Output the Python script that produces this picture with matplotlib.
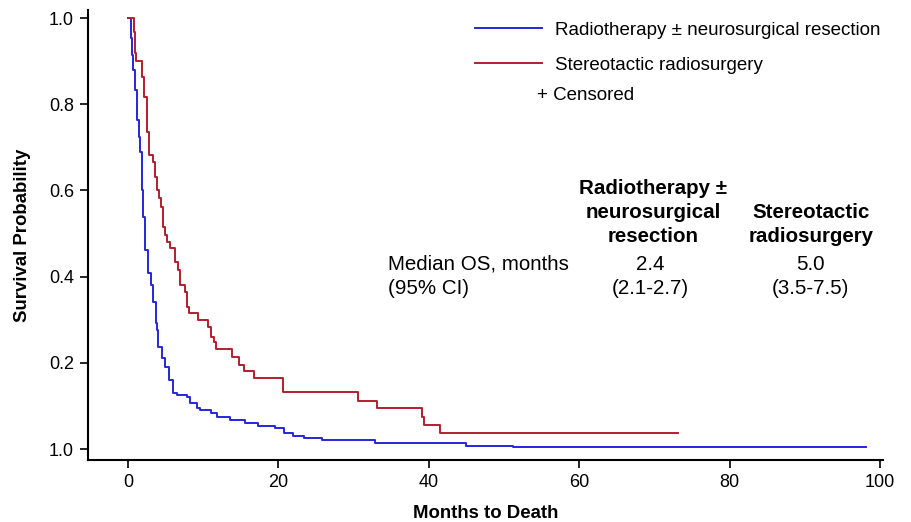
import matplotlib
matplotlib.use("Agg")
import matplotlib.pyplot as plt
from matplotlib.lines import Line2D

plt.rcParams['font.family'] = ['Liberation Sans', 'DejaVu Sans']

# Kaplan-Meier step data (time in months, survival after the step)
blue_t = [0, 0.4, 0.53, 0.66, 0.93, 1.2, 1.46, 1.6, 1.86, 2.04, 2.26, 2.66, 3.06, 3.39, 3.66,
          3.85, 4.0, 4.52, 4.92, 5.45, 5.98, 6.5, 7.8, 8.2, 9.2, 9.6, 11.0, 11.9, 13.6, 15.5,
          17.3, 19.5, 20.7, 22.0, 23.4, 25.8, 32.8, 45.0, 51.2, 98.2]
blue_s = [1.0, 0.954, 0.914, 0.879, 0.833, 0.763, 0.724, 0.689, 0.60, 0.538, 0.462, 0.408, 0.381,
          0.341, 0.292, 0.276, 0.237, 0.211, 0.19, 0.16, 0.13, 0.125, 0.12, 0.107, 0.095, 0.09,
          0.084, 0.074, 0.067, 0.06, 0.053, 0.048, 0.036, 0.031, 0.026, 0.021, 0.0146, 0.0077,
          0.0053, 0.0053]

red_t = [0, 0.84, 0.93, 1.06, 1.82, 2.13, 2.57, 2.75, 3.37, 3.59, 3.9, 4.12, 4.45, 4.72, 4.92,
         5.19, 5.58, 6.25, 6.65, 6.92, 7.58, 7.8, 8.11, 9.27, 10.6, 11.04, 11.37, 11.66, 13.83,
         14.72, 15.39, 16.76, 20.6, 30.6, 33.1, 39.1, 39.4, 41.5, 73.1]
red_s = [1.0, 0.968, 0.919, 0.90, 0.863, 0.817, 0.736, 0.682, 0.666, 0.631, 0.601, 0.582, 0.561,
         0.515, 0.497, 0.48, 0.466, 0.434, 0.415, 0.381, 0.364, 0.329, 0.316, 0.299, 0.283, 0.26,
         0.248, 0.232, 0.213, 0.195, 0.181, 0.165, 0.132, 0.111, 0.095, 0.074, 0.056, 0.038, 0.038]

series_labels = ["Radiotherapy \u00b1 neurosurgical resection", "Stereotactic radiosurgery"]
x_ticks = [0, 20, 40, 60, 80, 100]
y_ticks = [0.0, 0.2, 0.4, 0.6, 0.8, 1.0]
y_tick_labels = ["1.0", "0.2", "0.4", "0.6", "0.8", "1.0"]

col_headers = ["Radiotherapy \u00b1\nneurosurgical\nresection", "Stereotactic\nradiosurgery"]
row_label = "Median OS, months\n(95% CI)"
medians = ["2.4", "5.0"]
cis = ["(2.1-2.7)", "(3.5-7.5)"]

BLUE = '#2626dc'
RED = '#b31e2d'

W, H = 911, 522
fig = plt.figure(figsize=(W / 100, H / 100), dpi=100)
ax_l, ax_r, ax_b, ax_t = 88, 883, 460, 10
ax = fig.add_axes([ax_l / W, (H - ax_b) / H, (ax_r - ax_l) / W, (ax_b - ax_t) / H])

ax.step(blue_t, blue_s, where='post', color=BLUE, lw=1.4)
ax.step(red_t, red_s, where='post', color=RED, lw=1.4)

ax.set_xlim(-5.32, 100.4)
ax.set_ylim(-0.0255, 1.0186)
ax.set_xticks(x_ticks)
ax.set_yticks(y_ticks)
ax.set_yticklabels(y_tick_labels)
ax.tick_params(direction='out', length=6, width=1.2, labelsize=13, pad=4)
for s in ['top', 'right']:
    ax.spines[s].set_visible(False)
for s in ['left', 'bottom']:
    ax.spines[s].set_linewidth(1.5)

ax.set_xlabel("Months to Death", fontsize=13.4, fontweight='bold', labelpad=10)
ax.set_ylabel("Survival Probability", fontsize=13.4, fontweight='bold', labelpad=13)

# Legend
handles = [Line2D([], [], color=BLUE, lw=1.4), Line2D([], [], color=RED, lw=1.4)]
ax.legend(handles, series_labels, loc='upper left', bbox_to_anchor=(0.47, 1.003),
          frameon=False, fontsize=13.5, handlelength=3.6, handletextpad=0.7,
          labelspacing=0.95, borderaxespad=0.3)
ax.text(0.565, 0.81, "+ Censored", transform=ax.transAxes, fontsize=13.5,
        va='center', ha='left')

# Median table
fs = 14.8
ls = 1.36
ax.text(0.377, 0.408, row_label, transform=ax.transAxes, fontsize=fs,
        va='center', ha='left', linespacing=ls)
ax.text(0.711, 0.55, col_headers[0], transform=ax.transAxes, fontsize=fs,
        fontweight='bold', va='center', ha='center', linespacing=ls)
ax.text(0.909, 0.523, col_headers[1], transform=ax.transAxes, fontsize=fs,
        fontweight='bold', va='center', ha='center', linespacing=ls)
for i, xc in enumerate([0.707, 0.909]):
    ax.text(xc, 0.408, medians[i] + "\n" + cis[i], transform=ax.transAxes, fontsize=fs,
            va='center', ha='center', linespacing=ls)

fig.savefig("out.png", dpi=100)
